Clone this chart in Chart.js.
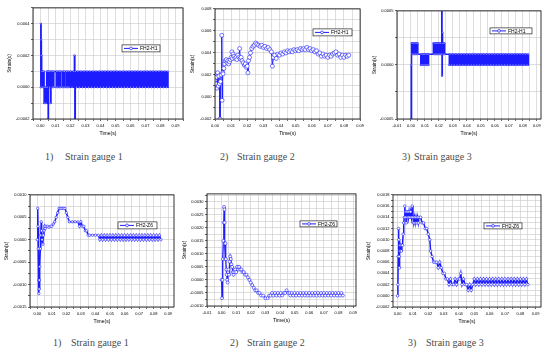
<!DOCTYPE html>
<html>
<head>
<meta charset="utf-8">
<script src="https://cdn.jsdelivr.net/npm/chart.js@4.4.0/dist/chart.umd.min.js"></script>
<style>
    body { margin: 0; background: #fff; width: 550px; height: 361px; position: relative; overflow: hidden; }
    canvas { position: absolute; }
    .cap { position: absolute; font-family: "Liberation Serif", "Times New Roman", serif; font-size: 10px; line-height: 12px; color: #4a4a4a; white-space: nowrap; }
</style>
</head>
<body>
<canvas id="g1"></canvas>
<canvas id="g2"></canvas>
<canvas id="g3"></canvas>
<canvas id="g4"></canvas>
<canvas id="g5"></canvas>
<canvas id="g6"></canvas>

<span class="cap" style="left:45px;top:151px">1)</span><span class="cap" style="left:65px;top:151px">Strain gauge 1</span>
<span class="cap" style="left:220px;top:151px">2)</span><span class="cap" style="left:237px;top:151px">Strain gauge 2</span>
<span class="cap" style="left:402px;top:151px">3)</span><span class="cap" style="left:414px;top:151px">Strain gauge 3</span>
<span class="cap" style="left:53px;top:337px">1)</span><span class="cap" style="left:71px;top:337px">Strain gauge 1</span>
<span class="cap" style="left:230px;top:337px">2)</span><span class="cap" style="left:247px;top:337px">Strain gauge 2</span>
<span class="cap" style="left:408px;top:337px">3)</span><span class="cap" style="left:426px;top:337px">Strain gauge 3</span>

<script>
// ---- datos ----

// fila de arriba: FH2-H1
const g1Time = [0, 0.0002, 0.0004, 0.0006, 0.0008, 0.0010, 0.0014, 0.0017, 0.0021, 0.0024, 0.0027, 0.0030,
    0.0034, 0.0037, 0.0041, 0.0044, 0.0048, 0.0051, 0.0053, 0.0060, 0.0063, 0.0067, 0.0070,
    0.0078, 0.0081, 0.0086, 0.0089, 0.0105, 0.0108, 0.0115, 0.0118, 0.0125, 0.0128, 0.0133, 0.0136,
    0.0148, 0.0151, 0.0158, 0.0161, 0.0172, 0.0175, 0.0182, 0.0185,
    0.019, 0.020, 0.021, 0.022, 0.0226, 0.0229, 0.0232,
    0.024, 0.025, 0.026, 0.027, 0.028, 0.029, 0.030, 0.031, 0.032, 0.033, 0.034, 0.035, 0.036, 0.037,
    0.038, 0.039, 0.040, 0.041, 0.042, 0.043, 0.044, 0.045, 0.046, 0.047, 0.048, 0.049, 0.050, 0.051,
    0.052, 0.053, 0.054, 0.055, 0.056, 0.057, 0.058, 0.059, 0.060, 0.061, 0.062, 0.063, 0.064, 0.065,
    0.066, 0.067, 0.068, 0.069, 0.070, 0.071, 0.072, 0.073, 0.074, 0.075, 0.076, 0.077, 0.078, 0.079,
    0.080, 0.081, 0.082, 0.083, 0.084, 0.085];
const g1Strain = [0, 0.0004, 0.0003, 0.0002, 0.0001, 0, 0.0001, 0, 0.0001, -0.0001, 0, -0.0001,
    0, -0.0001, 0.0001, 0, 0.0001, -0.0002, 0.0001, 0, 0.0001, -0.0001, 0.0001,
    0, 0.0001, 0, 0.0001, 0, 0.0001, 0, 0.0001, 0, 0.0001, 0, 0.0001,
    0, 0.0001, 0, 0.0001, 0, 0.0001, 0, 0.0001,
    0, 0.0001, 0, 0.0001, 0.0002, -0.0002, 0.0001,
    0, 0.0001, 0, 0.0001, 0, 0.0001, 0, 0.0001, 0, 0.0001, 0, 0.0001, 0, 0.0001,
    0, 0.0001, 0, 0.0001, 0, 0.0001, 0, 0.0001, 0, 0.0001, 0, 0.0001, 0, 0.0001,
    0, 0.0001, 0, 0.0001, 0, 0.0001, 0, 0.0001, 0, 0.0001, 0, 0.0001, 0, 0.0001,
    0, 0.0001, 0, 0.0001, 0, 0.0001, 0, 0.0001, 0, 0.0001, 0, 0.0001, 0, 0.0001,
    0, 0.0001, 0, 0.0001, 0, 0.0001];

const g2Time = [0, 0.0004, 0.0008, 0.0012, 0.0016, 0.0020, 0.0024, 0.0028, 0.0031, 0.0034, 0.0038, 0.0042,
    0.0044, 0.0047, 0.0050, 0.0055, 0.0060, 0.0065, 0.0070, 0.0075, 0.0080, 0.0085, 0.0090, 0.0095,
    0.0100, 0.0105, 0.0108, 0.0112, 0.0118, 0.0124, 0.0130, 0.0136, 0.0142, 0.0148, 0.0153, 0.0156,
    0.0162, 0.0168, 0.0175, 0.0182, 0.0188, 0.0194, 0.0200, 0.0204, 0.0208, 0.0214, 0.0220, 0.0228,
    0.0236, 0.0244, 0.0252, 0.0260, 0.0270, 0.0280, 0.0290, 0.0300, 0.0310, 0.0320, 0.0330, 0.0340,
    0.0350, 0.0356, 0.0362, 0.0370, 0.0380, 0.0390, 0.0400, 0.0410, 0.0420, 0.0430, 0.0440, 0.0450,
    0.0460, 0.0470, 0.0480, 0.0490, 0.0500, 0.0510, 0.0520, 0.0530, 0.0540, 0.0550, 0.0560, 0.0570,
    0.0580, 0.0590, 0.0600, 0.0610, 0.0620, 0.0630, 0.0640, 0.0650, 0.0660, 0.0670, 0.0680, 0.0690,
    0.0700, 0.0710, 0.0720, 0.0730, 0.0740, 0.0750, 0.0760, 0.0770, 0.0780, 0.0790, 0.0800, 0.0810,
    0.0820, 0.0830];
const g2Strain = [0.0015, 0.0012, 0.0018, 0.0008, 0.0022, 0.0010, 0.0019, 0.0012, -0.0020, 0.0014, 0.0020, 0.0056,
    -0.0003, 0.0022, 0.0021, 0.0026, 0.0030, 0.0033, 0.0034, 0.0031, 0.0033, 0.0030, 0.0032, 0.0034,
    0.0036, 0.0041, 0.0035, 0.0039, 0.0037, 0.0035, 0.0036, 0.0034, 0.0038, 0.0036, 0.0044, 0.0035,
    0.0036, 0.0033, 0.0031, 0.0029, 0.0030, 0.0027, 0.0028, 0.0022, 0.0033, 0.0036, 0.0040, 0.0044,
    0.0046, 0.0047, 0.0049, 0.0048, 0.0047, 0.0046, 0.0047, 0.0045, 0.0046, 0.0044, 0.0045, 0.0043,
    0.0041, 0.0028, 0.0036, 0.0038, 0.0035, 0.0039, 0.0038, 0.0040, 0.0039, 0.0041, 0.0040, 0.0042,
    0.0041, 0.0042, 0.0041, 0.0043, 0.0042, 0.0043, 0.0042, 0.0044, 0.0043, 0.0044, 0.0043, 0.0045,
    0.0043, 0.0044, 0.0042, 0.0043, 0.0041, 0.0042, 0.0039, 0.0040, 0.0037, 0.0039, 0.0037, 0.0038,
    0.0036, 0.0038, 0.0037, 0.0039, 0.0040, 0.0041, 0.0038, 0.0039, 0.0036, 0.0038, 0.0036, 0.0038,
    0.0037, 0.0038];

const g3Time = [0, 0.0002, 0.0004, 0.0008, 0.0011, 0.0014, 0.0017, 0.0020, 0.0023, 0.0026, 0.0029, 0.0032,
    0.0035, 0.0038, 0.0041, 0.0044, 0.0047, 0.0049,
    0.0070, 0.0073, 0.0076, 0.0079, 0.0082, 0.0085, 0.0088, 0.0091, 0.0094, 0.0097, 0.0100, 0.0103,
    0.0106, 0.0109, 0.0112, 0.0115, 0.0118, 0.0121, 0.0124, 0.0126,
    0.0160, 0.0163, 0.0166, 0.0169, 0.0172, 0.0175, 0.0178, 0.0181, 0.0184, 0.0187, 0.0190, 0.0193,
    0.0196, 0.0199, 0.0202, 0.0205, 0.0208, 0.0211, 0.0214, 0.0217,
    0.0220, 0.0222, 0.0224, 0.0226, 0.0229, 0.0232, 0.0235, 0.0238, 0.0241,
    0.0274, 0.028, 0.029, 0.030, 0.031, 0.032, 0.033, 0.034, 0.035, 0.036, 0.037, 0.038, 0.039, 0.040,
    0.041, 0.042, 0.043, 0.044, 0.045, 0.046, 0.047, 0.048, 0.049, 0.050, 0.051, 0.052, 0.053, 0.054,
    0.055, 0.056, 0.057, 0.058, 0.059, 0.060, 0.061, 0.062, 0.063, 0.064, 0.065, 0.066, 0.067, 0.068,
    0.069, 0.070, 0.071, 0.072, 0.073, 0.074, 0.075, 0.076, 0.077, 0.078, 0.079, 0.080, 0.081, 0.082,
    0.083, 0.084];
const g3Strain = [0, -0.0005, 0.0002, 0.0001, 0.0002, 0.0001, 0.0002, 0.0001, 0.0002, 0.0001, 0.0002, 0.0001,
    0.0002, 0.0001, 0.0002, 0.0001, 0.0002, 0.0001,
    0, 0.0001, 0, 0.0001, 0, 0.0001, 0, 0.0001, 0, 0.0001, 0, 0.0001,
    0, 0.0001, 0, 0.0001, 0, 0.0001, 0, 0.0001,
    0.0002, 0.0001, 0.0002, 0.0001, 0.0002, 0.0001, 0.0002, 0.0001, 0.0002, 0.0001, 0.0002, 0.0001,
    0.0002, 0.0001, 0.0002, 0.0001, 0.0002, 0.0001, 0.0002, 0.0001,
    0.0005, -0.0001, 0.0003, 0.0002, 0.0001, 0.0002, 0.0001, 0.0002, 0.0001,
    0, 0.0001, 0, 0.0001, 0, 0.0001, 0, 0.0001, 0, 0.0001, 0, 0.0001, 0, 0.0001,
    0, 0.0001, 0, 0.0001, 0, 0.0001, 0, 0.0001, 0, 0.0001, 0, 0.0001, 0, 0.0001,
    0, 0.0001, 0, 0.0001, 0, 0.0001, 0, 0.0001, 0, 0.0001, 0, 0.0001, 0, 0.0001,
    0, 0.0001, 0, 0.0001, 0, 0.0001, 0, 0.0001, 0, 0.0001, 0, 0.0001, 0, 0.0001,
    0, 0.0001];

// fila de abajo: FH2-Z6
const g4Time = [0, 0.0003, 0.0005, 0.0007, 0.0009, 0.0011, 0.0013, 0.0015, 0.0018, 0.0021, 0.0024, 0.0027,
    0.0030, 0.0033, 0.0036, 0.0039, 0.0042, 0.0046, 0.0050, 0.0055, 0.0060, 0.0070, 0.0080, 0.0090,
    0.0100, 0.0110, 0.0120, 0.0130, 0.0140, 0.0150, 0.0160, 0.0170, 0.0180, 0.0190, 0.0200, 0.0210,
    0.0220, 0.0240, 0.0260, 0.0280, 0.0290, 0.0300, 0.0310, 0.0320, 0.0330, 0.0340, 0.0350, 0.0360,
    0.0380, 0.0400, 0.0420,
    0.043, 0.044, 0.045, 0.046, 0.047, 0.048, 0.049, 0.050, 0.051, 0.052, 0.053, 0.054, 0.055, 0.056,
    0.057, 0.058, 0.059, 0.060, 0.061, 0.062, 0.063, 0.064, 0.065, 0.066, 0.067, 0.068, 0.069, 0.070,
    0.071, 0.072, 0.073, 0.074, 0.075, 0.076, 0.077, 0.078, 0.079, 0.080, 0.081, 0.082, 0.083, 0.084,
    0.085];
const g4Strain = [0, 0.0007, 0.0003, -0.0002, -0.0009, -0.0012, -0.0011, -0.0009, -0.0006, -0.0002, 0.0001, 0.0004,
    0.0002, 0, 0.0001, -0.0001, 0.0001, 0.0002, 0.0003, 0.00025, 0.0003, 0.0003, 0.00028, 0.0003,
    0.0003, 0.00035, 0.0004, 0.0005, 0.0006, 0.0007, 0.0007, 0.0007, 0.0007, 0.0007, 0.0006, 0.0005,
    0.0004, 0.0004, 0.0004, 0.0004, 0.0003, 0.0004, 0.0003, 0.0003, 0.0002, 0.0002, 0.0001, 0.0001,
    0.0001, 0.0001, 0.0001,
    0, 0.0001, 0, 0.0001, 0, 0.0001, 0, 0.0001, 0, 0.0001, 0, 0.0001, 0, 0.0001,
    0, 0.0001, 0, 0.0001, 0, 0.0001, 0, 0.0001, 0, 0.0001, 0, 0.0001, 0, 0.0001,
    0, 0.0001, 0, 0.0001, 0, 0.0001, 0, 0.0001, 0, 0.0001, 0, 0.0001, 0, 0.0001,
    0];

const g5Time = [0, 0.0003, 0.0006, 0.0009, 0.0012, 0.0015, 0.0017, 0.0019, 0.0021, 0.0023, 0.0025, 0.0027,
    0.0029, 0.0032, 0.0035, 0.0038, 0.0041, 0.0044, 0.0047, 0.0051, 0.0055, 0.0059, 0.0063, 0.0067,
    0.0072, 0.0077, 0.0082, 0.0087, 0.0093, 0.0100, 0.0107, 0.0114, 0.0120, 0.0127, 0.0135, 0.0143,
    0.0152, 0.0160, 0.0170, 0.0180, 0.0190, 0.0200, 0.0210, 0.0220, 0.0230, 0.0240, 0.0250, 0.0260,
    0.0270, 0.0285, 0.0300, 0.0315, 0.0325, 0.0335, 0.0345, 0.0355, 0.0365, 0.0375, 0.0385, 0.0395,
    0.0405, 0.0415, 0.0425, 0.0435, 0.0445, 0.0455, 0.0465,
    0.047, 0.048, 0.049, 0.050, 0.051, 0.052, 0.053, 0.054, 0.055, 0.056, 0.057, 0.058, 0.059, 0.060,
    0.061, 0.062, 0.063, 0.064, 0.065, 0.066, 0.067, 0.068, 0.069, 0.070, 0.071, 0.072, 0.073, 0.074,
    0.075, 0.076, 0.077, 0.078, 0.079, 0.080, 0.081, 0.082, 0.083];
const g5Strain = [0, -0.0007, 0, 0.0008, 0.0015, 0.0022, 0.0028, 0.0027, 0.0022, 0.0014, 0.0008, 0.0014,
    0.0008, 0.0004, 0.0002, 0, -0.0001, 0.0003, 0.0004, 0.0002, 0.0007, 0.0009, 0.0008, 0.0006,
    0.0005, 0.0003, 0.0002, 0.0003, 0.0004, 0.0003, 0.0005, 0.0004, 0.0005, 0.0004, 0.0004, 0.0003,
    0.0003, 0.0002, 0.0002, 0.0001, 0, -0.0001, -0.0002, -0.0003, -0.0004, -0.0004, -0.0005, -0.0005,
    -0.0006, -0.0006, -0.0007, -0.0007, -0.0006, -0.0006, -0.0005, -0.0006, -0.0005, -0.0006, -0.0005, -0.0006,
    -0.0005, -0.0006, -0.0005, -0.0005, -0.0004, -0.0005, -0.0005,
    -0.0006, -0.0005, -0.0006, -0.0005, -0.0006, -0.0005, -0.0006, -0.0005, -0.0006, -0.0005, -0.0006, -0.0005, -0.0006, -0.0005,
    -0.0006, -0.0005, -0.0006, -0.0005, -0.0006, -0.0005, -0.0006, -0.0005, -0.0006, -0.0005, -0.0006, -0.0005, -0.0006, -0.0005,
    -0.0006, -0.0005, -0.0006, -0.0005, -0.0006, -0.0005, -0.0006, -0.0005, -0.0006];

const g6Time = [0, 0.0002, 0.0004, 0.0006, 0.0008, 0.0010, 0.0012, 0.0014, 0.0016, 0.0019, 0.0022, 0.0025,
    0.0028, 0.0032, 0.0036, 0.0040, 0.0044, 0.0047, 0.0050, 0.0053, 0.0056, 0.0059, 0.0063, 0.0067,
    0.0071, 0.0075, 0.0080, 0.0085, 0.0090, 0.0095, 0.0100, 0.0105, 0.0110, 0.0115, 0.0120, 0.0125,
    0.0130, 0.0135, 0.0140, 0.0150, 0.0160, 0.0170, 0.0180, 0.0190, 0.0200, 0.0210, 0.0215, 0.0225,
    0.0235, 0.0245, 0.0255, 0.0265, 0.0275, 0.0285, 0.0295, 0.0305, 0.0315, 0.0325, 0.0335, 0.0345,
    0.0355, 0.0365, 0.0375, 0.0385, 0.0395, 0.0405, 0.0412, 0.0420, 0.0430, 0.0440, 0.0450, 0.0460,
    0.0470, 0.0480, 0.0490, 0.0500,
    0.051, 0.052, 0.053, 0.054, 0.055, 0.056, 0.057, 0.058, 0.059, 0.060, 0.061, 0.062, 0.063, 0.064,
    0.065, 0.066, 0.067, 0.068, 0.069, 0.070, 0.071, 0.072, 0.073, 0.074, 0.075, 0.076, 0.077, 0.078,
    0.079, 0.080, 0.081, 0.082, 0.083, 0.084, 0.085];
const g6Strain = [0, 0.0002, 0.0007, 0.0012, 0.0010, 0.0007, 0.0005, 0.0008, 0.0009, 0.0008, 0.0009, 0.0008,
    0.0009, 0.0009, 0.0011, 0.0013, 0.0014, 0.0016, 0.0014, 0.0015, 0.0013, 0.0015, 0.0014, 0.0015,
    0.0014, 0.0015, 0.0014, 0.0015, 0.0014, 0.0016, 0.0014, 0.0013, 0.0014, 0.0013, 0.0014, 0.0013,
    0.0014, 0.0013, 0.0014, 0.0014, 0.0013, 0.0013, 0.0012, 0.0012, 0.0011, 0.0010, 0.0008, 0.0007,
    0.0006, 0.0006, 0.0006, 0.0005, 0.0006, 0.0005, 0.0004, 0.0004, 0.0003, 0.0003, 0.0002, 0.0003,
    0.0002, 0.0002, 0.0003, 0.0002, 0.0003, 0.0003, 0.0004, 0.0002, 0.0003, 0.0002, 0.0002, 0.0001,
    0.0002, 0.0001, 0.0002, 0.0003,
    0.0002, 0.0003, 0.0002, 0.0003, 0.0002, 0.0003, 0.0002, 0.0003, 0.0002, 0.0003, 0.0002, 0.0003, 0.0002, 0.0003,
    0.0002, 0.0003, 0.0002, 0.0003, 0.0002, 0.0003, 0.0002, 0.0003, 0.0002, 0.0003, 0.0002, 0.0003, 0.0002, 0.0003,
    0.0002, 0.0003, 0.0002, 0.0003, 0.0002, 0.0003, 0.0002];

const xTitle = 'Time(s)';
const yTitle = 'Strain(ε)';

// ---- estilo ----
const azul = '#1c1cff';
const gris = '#c8c8c8';
const fuente = 'Arial, "Liberation Sans", sans-serif';

// marco negro alrededor del area de trazado
const marcoPlugin = {
    id: 'marco',
    afterDatasetsDraw(chart) {
        const a = chart.chartArea, ctx = chart.ctx;
        ctx.save();
        ctx.strokeStyle = '#000';
        ctx.lineWidth = 0.8;
        ctx.strokeRect(a.left, a.top, a.right - a.left, a.bottom - a.top);
        ctx.restore();
    }
};

// leyenda tipo Origin dentro del grafico
const leyendaPlugin = {
    id: 'leyenda',
    afterDraw(chart, args, o) {
        const a = chart.chartArea, ctx = chart.ctx;
        const x = a.left + o.box[0], y = a.top + o.box[1], w = o.box[2], h = o.box[3];
        const my = y + h / 2;
        ctx.save();
        ctx.fillStyle = '#fff';
        ctx.fillRect(x, y, w, h);
        ctx.strokeStyle = '#000';
        ctx.lineWidth = 0.6;
        ctx.strokeRect(x, y, w, h);
        ctx.strokeStyle = azul;
        ctx.lineWidth = 1;
        ctx.beginPath();
        ctx.moveTo(x + 2, my);
        ctx.lineTo(x + 16, my);
        ctx.stroke();
        ctx.beginPath();
        ctx.arc(x + 9, my, 1.4, 0, Math.PI * 2);
        ctx.fillStyle = '#fff';
        ctx.fill();
        ctx.lineWidth = 0.7;
        ctx.stroke();
        ctx.fillStyle = '#000';
        ctx.font = '5px ' + fuente;
        ctx.textBaseline = 'middle';
        ctx.fillText(o.text, x + 18, my + 0.3);
        ctx.restore();
    }
};

function crearPanel(p) {
    const cv = document.getElementById(p.id);
    const padTop = 3, padRight = 4, xh = 20;
    const [L, T, R, B] = p.area;
    cv.style.left = (L - p.yw) + 'px';
    cv.style.top = (T - padTop) + 'px';
    cv.width = R - L + p.yw + padRight;
    cv.height = B - T + padTop + xh;

    const puntos = p.time.map((t, i) => ({ x: t, y: p.strain[i] }));
    if (p.time.length !== p.strain.length) console.error('largo distinto en ' + p.id);

    new Chart(cv, {
        type: 'line',
        data: {
            datasets: [{
                label: p.legend,
                data: puntos,
                borderColor: azul,
                borderWidth: p.lw,
                stepped: p.stepped,
                tension: 0,
                pointRadius: p.pr,
                pointBorderWidth: 0.6,
                pointBackgroundColor: '#fff',
                pointBorderColor: azul
            }]
        },
        options: {
            responsive: false,
            animation: false,
            devicePixelRatio: 1,
            layout: { padding: { top: padTop, right: padRight, left: 0, bottom: 0 }, autoPadding: false },
            plugins: {
                legend: { display: false },
                tooltip: { enabled: false },
                leyenda: { box: p.legBox, text: p.legend }
            },
            scales: {
                x: {
                    type: 'linear',
                    min: p.xr[0],
                    max: p.xr[1],
                    afterFit: s => { s.height = xh; },
                    border: { display: false },
                    grid: { color: gris, lineWidth: 0.6, tickLength: 2, tickColor: '#000' },
                    ticks: {
                        stepSize: 0.005,
                        includeBounds: false,
                        autoSkip: false,
                        maxRotation: 0,
                        padding: 2,
                        color: '#000',
                        font: { size: 4, family: fuente },
                        callback: v => {
                            const k = Math.round(v / 0.005);
                            if (Math.abs(k) % 2 !== 0) return '';
                            return (Math.abs(v) < 1e-12 ? 0 : v).toFixed(2);
                        }
                    },
                    title: { display: true, text: xTitle, color: '#000', font: { size: 5, family: fuente }, padding: { top: 0, bottom: 2.5 } }
                },
                y: {
                    min: p.yr[0],
                    max: p.yr[1],
                    afterFit: s => { s.width = p.yw; },
                    border: { display: false },
                    grid: { color: gris, lineWidth: 0.6, tickLength: 2, tickColor: '#000' },
                    ticks: {
                        stepSize: p.ystep,
                        includeBounds: false,
                        autoSkip: false,
                        padding: 1.5,
                        color: '#000',
                        font: { size: 4, family: fuente },
                        callback: v => {
                            const k = Math.round(v / p.ystep);
                            if (Math.abs(k) % 2 !== 0) return '';
                            return (Math.abs(v) < 1e-12 ? 0 : v).toFixed(p.dec);
                        }
                    },
                    title: { display: true, text: yTitle, color: '#000', font: { size: 5, family: fuente }, padding: { top: p.tpad, bottom: 0 } }
                }
            }
        },
        plugins: [marcoPlugin, leyendaPlugin]
    });
}

const paneles = [
    { id: 'g1', time: g1Time, strain: g1Strain, legend: 'FH2-H1', stepped: true, pr: 0.7, lw: 1.5,
      area: [33, 7, 183, 119], yw: 33, tpad: 7, xr: [-0.005, 0.095], yr: [-0.0002, 0.0005], ystep: 0.0001, dec: 4, legBox: [89, 37, 38, 7] },
    { id: 'g2', time: g2Time, strain: g2Strain, legend: 'FH2-H1', stepped: false, pr: 2, lw: 1,
      area: [215, 8, 362, 119], yw: 30, tpad: 4.5, xr: [0, 0.09], yr: [-0.002, 0.008], ystep: 0.001, dec: 3, legBox: [98, 20, 39, 7] },
    { id: 'g3', time: g3Time, strain: g3Strain, legend: 'FH2-H1', stepped: true, pr: 0.7, lw: 1.5,
      area: [397, 10, 541, 119], yw: 30, tpad: 4.5, xr: [-0.01, 0.093], yr: [-0.0005, 0.0005], ystep: 0.00025, dec: 4, legBox: [93, 17, 42, 6] },
    { id: 'g4', time: g4Time, strain: g4Strain, legend: 'FH2-Z6', stepped: false, pr: 1.2, lw: 1.5,
      area: [30, 194, 174, 307], yw: 30, tpad: 3.5, xr: [-0.005, 0.094], yr: [-0.0015, 0.0010], ystep: 0.00025, dec: 4, legBox: [88, 27, 39, 7] },
    { id: 'g5', time: g5Time, strain: g5Strain, legend: 'FH2-Z6', stepped: false, pr: 1.5, lw: 1.3,
      area: [207, 193, 356, 306], yw: 30, tpad: 4.5, xr: [-0.01, 0.092], yr: [-0.0010, 0.0033], ystep: 0.00025, dec: 4, legBox: [93, 27, 37, 6] },
    { id: 'g6', time: g6Time, strain: g6Strain, legend: 'FH2-Z6', stepped: false, pr: 1.3, lw: 1.5,
      area: [393, 194, 541, 307], yw: 30, tpad: 2.5, xr: [-0.003, 0.0935], yr: [-0.0002, 0.0018], ystep: 0.0001, dec: 4, legBox: [91, 28, 38, 6] }
];

paneles.forEach(crearPanel);
</script>
</body>
</html>
